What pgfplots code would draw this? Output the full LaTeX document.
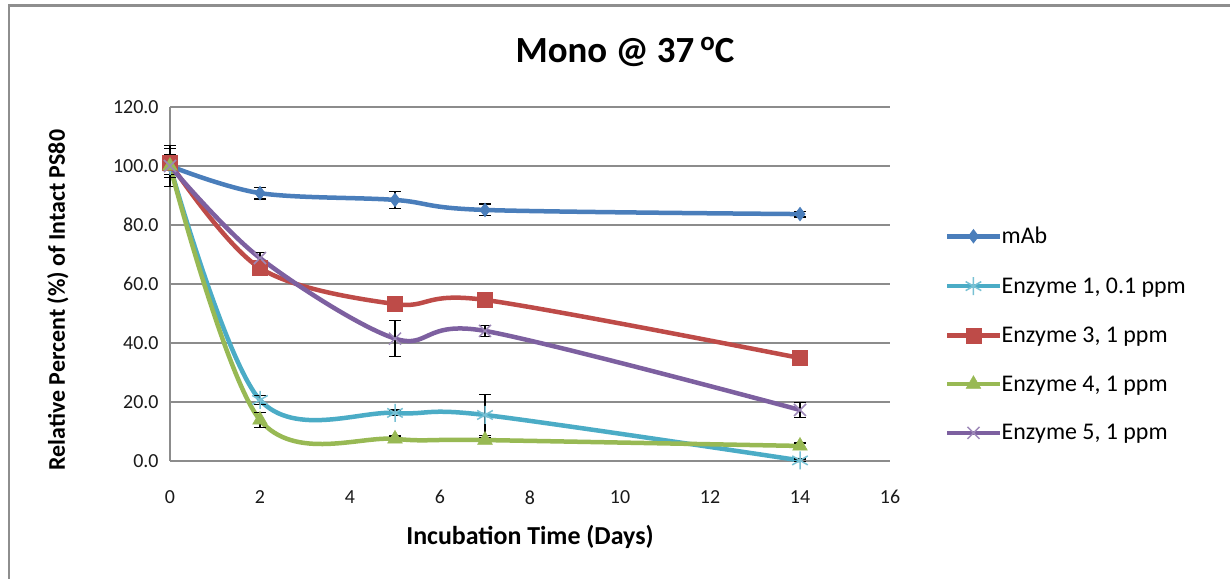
\documentclass[border=0pt]{standalone}
\usepackage{pgfplots}
\pgfplotsset{compat=1.18}
\usepackage{fontspec}
\setmainfont{Carlito}

\definecolor{cmab}{HTML}{4A7EBB}
\definecolor{cen1}{HTML}{4BACC6}
\definecolor{cen3}{HTML}{BE4B48}
\definecolor{cen4}{HTML}{98B954}
\definecolor{cen5}{HTML}{7D60A0}
\definecolor{gridgray}{HTML}{8C8C8C}
\definecolor{framegray}{HTML}{8E8E8E}
\definecolor{ticktext}{HTML}{1A1A1A}

\begin{document}
\begin{tikzpicture}
\path[use as bounding box, fill=white] (0bp,0bp) rectangle (1230bp,579bp);
% outer frame (top and left edges)
\draw[framegray, line width=2.5bp] (9bp,0bp) -- (9bp,573.5bp) -- (1230bp,573.5bp);

\node[font=\fontsize{37}{42}\selectfont\bfseries, anchor=center] at (625bp,527bp)
  {Mono @ 37\,\raisebox{0.3em}{\fontsize{27}{30}\selectfont o}C};

\begin{axis}[
  at={(170bp,118bp)}, anchor=south west,
  scale only axis, width=720bp, height=354bp,
  xmin=0, xmax=16, ymin=0, ymax=120,
  xtick={0,2,...,16}, ytick={0,20,...,120},
  axis lines*=left,
  axis line style={gridgray, line width=1.2bp},
  ymajorgrids, grid style={gridgray, line width=1.2bp},
  major tick length=0pt,
  tick label style={font=\fontsize{20}{24}\selectfont, text=ticktext},
  /pgf/number format/assume math mode=true,
  y tick label style={/pgf/number format/.cd, fixed, fixed zerofill, precision=1, /tikz/.cd, xshift=-8bp},
  x tick label style={yshift=-26bp},
  xlabel={\textbf{Incubation Time (Days)}},
  ylabel={\textbf{Relative Percent (\%) of Intact PS80}},
  xlabel style={font=\fontsize{26}{30}\selectfont, at={(0.5,0)}, anchor=center, yshift=-76bp},
  ylabel style={font=\fontsize{24}{28}\selectfont, at={(0,0.5)}, anchor=south, yshift=98bp, xshift=-16bp},
  legend cell align=left,
  legend style={at={(1.0764,0.661)}, anchor=north west, draw=none, fill=none,
    font=\fontsize{24}{28}\selectfont, inner sep=0pt, row sep=31.8bp,
    nodes={inner sep=0pt, anchor=west}},
  legend image code/.code={%
    \draw[mark repeat=2, mark phase=2] plot coordinates {(0bp,0bp) (26bp,0bp) (52bp,0bp)};},
  clip=false,
  every axis plot/.append style={line width=4.5bp, smooth, tension=0.55,
    error bars/error bar style={black, line width=1.2bp},
    error bars/error mark options={rotate=90, black, line width=1.2bp, mark size=6bp}},
]
% mAb
\addplot+[cmab, mark=diamond*, mark size=6.5bp, mark options={fill=cmab, line width=1bp},
  error bars/.cd, y dir=both, y explicit]
  coordinates {(0,100) +- (0,7) (2,90.8) +- (0,2) (5,88.5) +- (0,2.8) (7,85.1) +- (0,2) (14,83.7) +- (0,1)};
\addlegendentry{mAb}
% Enzyme 1
\addplot+[cen1, mark=asterisk, mark size=9bp, mark options={line width=1.5bp, draw=cen1!75},
  error bars/.cd, y dir=both, y explicit]
  coordinates {(0,100) +- (0,3) (2,20.7) +- (0,1.5) (5,16.3) +- (0,1) (7,15.6) +- (0,7) (14,0.2) +- (0,0.5)};
\addlegendentry{Enzyme 1, 0.1 ppm}
% Enzyme 3
\addplot+[cen3, mark=square*, mark size=7.5bp, mark options={fill=cen3, line width=0.5bp},
  error bars/.cd, y dir=both, y explicit]
  coordinates {(0,101) +- (0,5) (2,65.4) +- (0,2.5) (5,53.2) +- (0,1) (7,54.6) +- (0,2.5) (14,34.9) +- (0,1)};
\addlegendentry{Enzyme 3, 1 ppm}
% Enzyme 4
\addplot+[cen4, mark=triangle*, mark size=8.5bp, mark options={fill=cen4, line width=0.5bp},
  error bars/.cd, y dir=both, y explicit]
  coordinates {(0,100) +- (0,3) (2,13.9) +- (0,2.5) (5,7.5) +- (0,1) (7,7.1) +- (0,1) (14,5.1) +- (0,1)};
\addlegendentry{Enzyme 4, 1 ppm}
% Enzyme 5
\addplot+[cen5, mark=x, mark size=8.5bp, mark options={line width=1.5bp, draw=cen5!75},
  error bars/.cd, y dir=both, y explicit]
  coordinates {(0,100) +- (0,4) (2,68.8) +- (0,2) (5,41.5) +- (0,6.2) (7,44.1) +- (0,1.8) (14,17.3) +- (0,2.6)};
\addlegendentry{Enzyme 5, 1 ppm}
\end{axis}
\end{tikzpicture}
\end{document}
